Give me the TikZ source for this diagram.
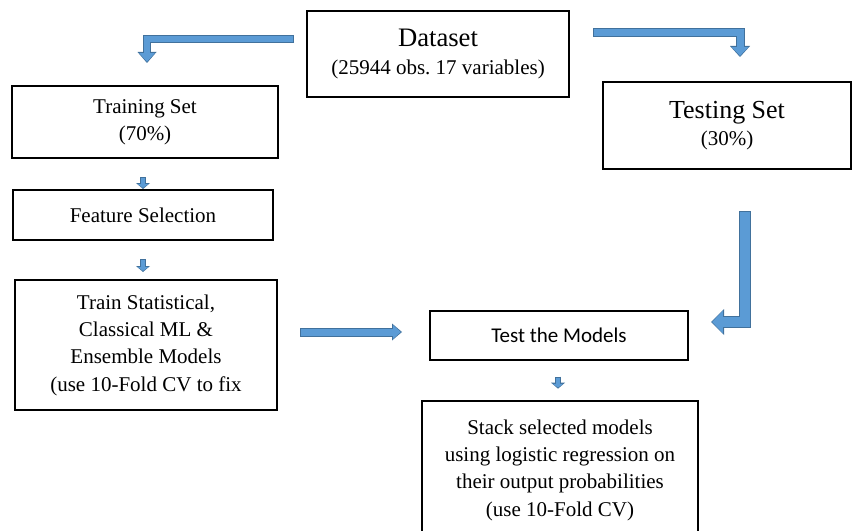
\documentclass[tikz,border=0pt]{standalone}
\usepackage{fontspec}
\setmainfont{Liberation Serif}
\newfontfamily\calibri{Carlito}
\usetikzlibrary{arrows.meta,calc}
\definecolor{arrowfill}{RGB}{91,155,213}
\definecolor{arrowedge}{RGB}{65,113,156}
\frenchspacing

\tikzset{
  box/.style={draw, line width=1.5pt, inner sep=0pt, align=center,
    font=\fontsize{15.75}{20.5}\selectfont},
  flow/.style n args={3}{
    /utils/exec={\pgfmathsetlengthmacro\flowshaft{#1-1.5pt}%
      \pgfmathsetlengthmacro\flowheadw{#2-2.6pt}%
      \pgfmathsetlengthmacro\flowheadl{#3-1.8pt}},
    draw=arrowfill, line join=miter, line width=\flowshaft,
    shorten <=0.75pt, shorten >=0.9pt,
    -{Triangle[width=\flowheadw, length=\flowheadl, line width=0pt]},
    preaction={draw=arrowedge, line width=#1, shorten <=0pt, shorten >=0pt,
      -{Triangle[width=#2, length=#3, line width=0pt]}}},
  smallflow/.style={flow={4.5pt}{10.5pt}{4.5pt}}
}

\begin{document}
\begin{tikzpicture}[x=0.75pt, y=-0.75pt]
  \useasboundingbox (0,0) rectangle (852,531);
  \clip (0,0) rectangle (852,531);

  \node[box, minimum width=196.5pt, minimum height=64.5pt] (data) at (438,54)
    {{\fontsize{20}{20.5}\selectfont Dataset}\\(25944 obs. 17 variables)};
  \node[box, minimum width=199.5pt, minimum height=54pt] (train) at (145,122)
    {Training Set\\(70\%)};
  \node[box, minimum width=186pt, minimum height=65.25pt] (test) at (727,125.5)
    {{\fontsize{19.5}{20.5}\selectfont Testing Set}\\(30\%)};
  \node[box, minimum width=195pt, minimum height=37.5pt] (feat) at (143,215)
    {Feature Selection};
  \node[box, minimum width=196.5pt, minimum height=97.5pt] (model) at (146,345)
    {Train Statistical,\\Classical ML \&\\Ensemble Models\\(use 10-Fold CV to fix};
  \node[box, minimum width=193.5pt, minimum height=36.75pt,
    font=\calibri\fontsize{15.75}{20.5}\selectfont] (evalbox) at (559,335.5)
    {Test the Models};
  \node[box, minimum width=207pt, minimum height=104pt] (stack) at (560,470)
    {Stack selected models\\using logistic regression on\\their output probabilities\\(use 10-Fold CV)};

  \coordinate (a1s) at ([shift={(-12,-15)}]data.west);
  \coordinate (a1e) at ([shift={(2,-22)}]train.north);
  \coordinate (a2s) at ([shift={(23,-21)}]data.east);
  \coordinate (a2e) at ([shift={(13,-24)}]test.north);
  \coordinate (a3s) at ([shift={(18,41)}]test.south);
  \coordinate (a3e) at ([shift={(22,-13.5)}]evalbox.east);
  \coordinate (a4s) at ([shift={(22,-13)}]model.east);
  \coordinate (a4e) at ($(a4s -| evalbox.west)+(-27,0)$);

  \draw[flow={6pt}{14.25pt}{8.25pt}] (a1s) -| (a1e);
  \draw[flow={6.75pt}{15pt}{8.25pt}] (a2s) -| (a2e);
  \draw[flow={9pt}{19.5pt}{9.75pt}] (a3s) |- (a3e);
  \draw[flow={6.75pt}{12.75pt}{7.5pt}] (a4s) -- (a4e);
  \draw[smallflow] ([shift={(0,-12)}]feat.north) -- (feat.north);
  \draw[smallflow] ([shift={(-3,-20)}]model.north) -- ([shift={(-3,-7)}]model.north);
  \draw[smallflow] ([shift={(-2,-23)}]stack.north) -- ([shift={(-2,-11)}]stack.north);
\end{tikzpicture}
\end{document}
